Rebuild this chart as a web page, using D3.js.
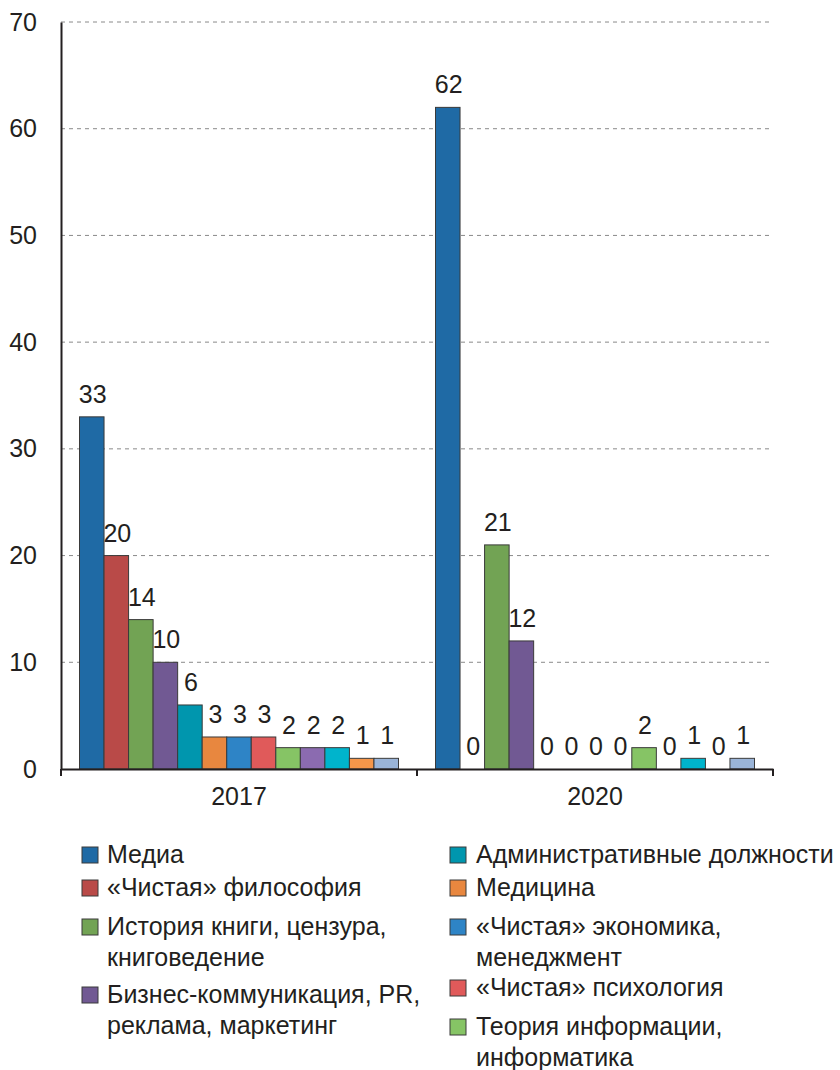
<!DOCTYPE html>
<html><head><meta charset="utf-8">
<script src="https://cdn.jsdelivr.net/npm/d3@7"></script>
<style>body{margin:0;background:#fff;} text{font-family:"Liberation Sans",Arial,sans-serif;fill:#231f20;}</style>
</head><body>
<svg id="c" width="840" height="1070"></svg>
<script>
const years = ["2017", "2020"];
const seriesIds = ["s1","s2","s3","s4","s5","s6","s7","s8","s9","s10","s11","s12","s13"];
const values2017 = [33, 20, 14, 10, 6, 3, 3, 3, 2, 2, 2, 1, 1];
const values2020 = [62, 0, 21, 12, 0, 0, 0, 0, 2, 0, 1, 0, 1];
const colors = ["#1f6aa5","#b94a48","#72a354","#715993","#0096ae","#e8873f","#2e84c6","#e05a5a","#86c465","#8b6bb0","#00b4cc","#f5964a","#9ab4d8"];
const yTicks = [0, 10, 20, 30, 40, 50, 60, 70];
const legendLeft = [
  {i:0, lines:["Медиа"]},
  {i:1, lines:["«Чистая» философия"]},
  {i:2, lines:["История книги, цензура,","книговедение"]},
  {i:3, lines:["Бизнес-коммуникация, PR,","реклама, маркетинг"]}
];
const legendRight = [
  {i:4, lines:["Административные должности"]},
  {i:5, lines:["Медицина"]},
  {i:6, lines:["«Чистая» экономика,","менеджмент"]},
  {i:7, lines:["«Чистая» психология"]},
  {i:8, lines:["Теория информации,","информатика"]}
];
const data = [values2017, values2020];

(function(){
const svg = d3.select("#c");
const FS = 25;
const mL = 61, mR = 773, mT = 22, mB = 769;
const y = d3.scaleLinear().domain([0, 70]).range([mB, mT]);
const x0 = d3.scaleBand().domain(years).range([mL, mR]).paddingInner(0).paddingOuter(0);
const x1 = d3.scaleBand().domain(seriesIds).range([18.5, x0.bandwidth() - 18.5]).padding(0);

svg.append("g").selectAll("line").data(yTicks.filter(t => t > 0)).join("line")
  .attr("x1", mL).attr("x2", mR)
  .attr("y1", d => y(d)).attr("y2", d => y(d))
  .attr("stroke", "#8a8a8a").attr("stroke-width", 1).attr("stroke-dasharray", "4,4");

const ya = svg.append("g").attr("transform", `translate(${mL},0)`)
  .call(d3.axisLeft(y).tickValues(yTicks).tickSize(0).tickPadding(24));
ya.select(".domain").attr("stroke", "#231f20").attr("stroke-width", 2);
ya.selectAll("text").attr("font-size", FS).attr("font-family", "Liberation Sans, Arial, sans-serif").attr("fill", "#231f20");

const groups = svg.append("g").selectAll("g").data(years).join("g")
  .attr("transform", d => `translate(${x0(d)},0)`);
groups.each(function(yr, gi) {
  const g = d3.select(this);
  const vals = data[gi].map((v, i) => ({v, i}));
  g.selectAll("rect").data(vals.filter(d => d.v > 0)).join("rect")
    .attr("x", d => x1(seriesIds[d.i]))
    .attr("width", x1.bandwidth())
    .attr("y", d => y(d.v))
    .attr("height", d => y(0) - y(d.v))
    .attr("fill", d => colors[d.i])
    .attr("stroke", "#3a3a3a").attr("stroke-width", 1);
  g.selectAll("text.v").data(vals).join("text")
    .attr("class", "v")
    .attr("x", d => x1(seriesIds[d.i]) + x1.bandwidth() / 2 + 1)
    .attr("y", d => y(d.v) - 14)
    .attr("text-anchor", "middle")
    .attr("font-size", FS)
    .text(d => d.v);
});

const xa = svg.append("g").attr("transform", `translate(0,${mB})`)
  .call(d3.axisBottom(x0).tickSize(0).tickPadding(18));
xa.select(".domain").attr("stroke", "#231f20").attr("stroke-width", 2);
xa.selectAll("text").attr("font-size", FS).attr("font-family", "Liberation Sans, Arial, sans-serif").attr("fill", "#231f20");
svg.append("g").selectAll("line").data([mL, x0("2020"), mR]).join("line")
  .attr("x1", d => d).attr("x2", d => d)
  .attr("y1", mB).attr("y2", mB + 7)
  .attr("stroke", "#231f20").attr("stroke-width", 2);

function drawLegend(items, sx, tx, rows) {
  items.forEach((it, idx) => {
    const cy = rows[idx];
    svg.append("rect").attr("x", sx).attr("y", cy - 8).attr("width", 16).attr("height", 16)
      .attr("fill", colors[it.i]).attr("stroke", "#3a3a3a").attr("stroke-width", 1);
    it.lines.forEach((ln, li) => {
      svg.append("text").attr("x", tx).attr("y", cy + 8 + li * 31)
        .attr("font-size", FS).text(ln);
    });
  });
}
drawLegend(legendLeft, 82, 107, [855, 888, 927, 995]);
drawLegend(legendRight, 450, 476, [855, 888, 927, 988, 1027]);
})();
</script>
</body></html>
